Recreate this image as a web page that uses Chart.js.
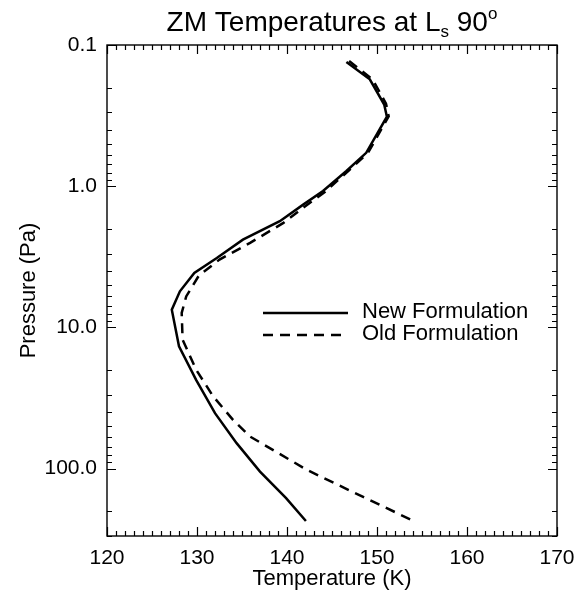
<!DOCTYPE html>
<html lang="en">
<head>
    <meta charset="UTF-8">
    <title>ZM Temperatures at Ls 90</title>
    <script src="https://cdn.jsdelivr.net/npm/chart.js"></script>
    <style>
        html, body { margin: 0; padding: 0; background: #fff; }
        #wrap { width: 577px; height: 594px; }
    </style>
</head>
<body>

<div id="wrap"><canvas id="myChart" width="577" height="594"></canvas></div>

<script>
// Perfis (temperatura em K, pressao em Pa)
const newTemp = [146.6, 149.2, 150.8, 151.1, 148.8, 146.6, 144.0, 141.8, 139.2, 135.1, 132.2, 129.7, 128.1, 127.2, 128.0, 129.9, 132.0, 134.4, 137.0, 139.9, 142.1];
const newPres = [0.132, 0.175, 0.264, 0.322, 0.58, 0.78, 1.08, 1.35, 1.77, 2.39, 3.22, 4.11, 5.55, 7.49, 13.6, 23.5, 40.5, 66, 105, 162, 235];

const oldTemp = [146.9, 149.5, 151.0, 151.3, 149.0, 146.8, 144.2, 141.8, 139.6, 135.9, 132.5, 130.2, 128.8, 128.3, 128.4, 129.9, 131.8, 134.0, 135.9, 142.2, 148.4, 153.9];
const oldPres = [0.13, 0.175, 0.26, 0.32, 0.58, 0.78, 1.1, 1.42, 1.82, 2.52, 3.31, 4.3, 6.03, 7.9, 12.2, 19.9, 30.8, 45.2, 59.3, 102, 158, 232];

const xTicks = [120, 130, 140, 150, 160, 170];
const yTicks = [0.1, 1, 10, 100];

const FONT = "'Liberation Sans', Arial, Helvetica, sans-serif";

function pts(t, p) {
    return t.map((v, i) => ({ x: v, y: p[i] }));
}

// tracinhos para dentro nos quatro lados, como no IDL
const tickPlugin = {
    id: 'inTicks',
    afterDraw(chart) {
        const ctx = chart.ctx;
        const a = chart.chartArea;
        const xs = chart.scales.x, ys = chart.scales.y;
        ctx.save();
        ctx.strokeStyle = '#000';
        ctx.lineWidth = 1.2;
        ctx.beginPath();
        for (let t = xs.min; t <= xs.max; t++) {
            const px = Math.round(xs.getPixelForValue(t)) + 0.5;
            const len = (t % 10 === 0) ? 9 : 5;
            ctx.moveTo(px, a.bottom); ctx.lineTo(px, a.bottom - len);
            ctx.moveTo(px, a.top); ctx.lineTo(px, a.top + len);
        }
        for (let d = 0.1; d < 1000; d *= 10) {
            for (let m = 1; m <= 9; m++) {
                const v = d * m;
                if (v < ys.min * 0.999 || v > ys.max * 1.001) continue;
                const py = Math.round(ys.getPixelForValue(v)) + 0.5;
                const len = (m === 1) ? 9 : 5;
                ctx.moveTo(a.left, py); ctx.lineTo(a.left + len, py);
                ctx.moveTo(a.right, py); ctx.lineTo(a.right - len, py);
            }
        }
        ctx.stroke();
        ctx.lineWidth = 1.4;
        ctx.strokeRect(a.left, a.top, a.right - a.left, a.bottom - a.top);
        ctx.restore();
    }
};

// titulo com L subscrito s e o grau sobrescrito
const titlePlugin = {
    id: 'zmTitle',
    afterDraw(chart) {
        const ctx = chart.ctx;
        const a = chart.chartArea;
        const big = '28px ' + FONT, small = '17px ' + FONT;
        const parts = [
            { t: 'ZM Temperatures at L', f: big, dy: 0 },
            { t: 's', f: small, dy: 6 },
            { t: ' 90', f: big, dy: 0 },
            { t: 'o', f: small, dy: -12 }
        ];
        ctx.save();
        ctx.fillStyle = '#000';
        ctx.textBaseline = 'alphabetic';
        let w = 0;
        parts.forEach(p => { ctx.font = p.f; p.w = ctx.measureText(p.t).width; w += p.w; });
        let x = (a.left + a.right) / 2 - w / 2;
        const base = 31;
        parts.forEach(p => {
            ctx.font = p.f;
            ctx.fillText(p.t, x, base + p.dy);
            x += p.w;
        });
        ctx.restore();
    }
};

const legendPlugin = {
    id: 'inLegend',
    afterDraw(chart) {
        const ctx = chart.ctx;
        const rows = [
            { label: chart.data.datasets[0].label, dash: [], y: 313 },
            { label: chart.data.datasets[1].label, dash: [10, 7], y: 335 }
        ];
        ctx.save();
        ctx.strokeStyle = '#000';
        ctx.fillStyle = '#000';
        ctx.lineWidth = 2.5;
        ctx.font = '22px ' + FONT;
        ctx.textBaseline = 'middle';
        rows.forEach(r => {
            ctx.setLineDash(r.dash);
            ctx.beginPath();
            ctx.moveTo(263, r.y); ctx.lineTo(348, r.y);
            ctx.stroke();
            ctx.fillText(r.label, 362, r.y - 1);
        });
        ctx.restore();
    }
};

const ctx = document.getElementById('myChart').getContext('2d');
const myChart = new Chart(ctx, {
    type: 'line',
    data: {
        datasets: [{
            label: 'New Formulation',
            data: pts(newTemp, newPres),
            borderColor: '#000',
            borderWidth: 2.5,
            pointRadius: 0,
            tension: 0,
            fill: false
        }, {
            label: 'Old Formulation',
            data: pts(oldTemp, oldPres),
            borderColor: '#000',
            borderWidth: 2.5,
            borderDash: [10, 7],
            pointRadius: 0,
            tension: 0,
            fill: false
        }]
    },
    options: {
        responsive: false,
        animation: false,
        layout: { padding: { top: 45, right: 20, left: 0, bottom: 0 } },
        plugins: {
            legend: { display: false },
            tooltip: { enabled: false },
            title: { display: false }
        },
        scales: {
            x: {
                type: 'linear',
                min: 120,
                max: 170,
                afterBuildTicks: s => { s.ticks = xTicks.map(v => ({ value: v })); },
                afterFit: s => { s.height = 58; s.paddingLeft = 0; s.paddingRight = 0; },
                grid: { display: false, drawTicks: false },
                border: { display: false },
                ticks: {
                    color: '#000',
                    padding: 10,
                    maxRotation: 0,
                    font: { family: FONT, size: 21 }
                },
                title: {
                    display: true,
                    text: 'Temperature (K)',
                    color: '#000',
                    padding: { top: 0, bottom: 2 },
                    font: { family: FONT, size: 22 }
                }
            },
            y: {
                type: 'logarithmic',
                reverse: true,
                min: 0.1,
                max: 300,
                afterBuildTicks: s => { s.ticks = yTicks.map(v => ({ value: v })); },
                afterFit: s => { s.width = 107; s.paddingTop = 0; s.paddingBottom = 0; },
                grid: { display: false, drawTicks: false },
                border: { display: false },
                ticks: {
                    color: '#000',
                    padding: 10,
                    font: { family: FONT, size: 21 },
                    callback: v => Number(v).toFixed(1)
                },
                title: {
                    display: true,
                    text: 'Pressure (Pa)',
                    color: '#000',
                    padding: { top: 16, bottom: 0 },
                    font: { family: FONT, size: 22 }
                }
            }
        }
    },
    plugins: [tickPlugin, titlePlugin, legendPlugin]
});
</script>

</body>
</html>
